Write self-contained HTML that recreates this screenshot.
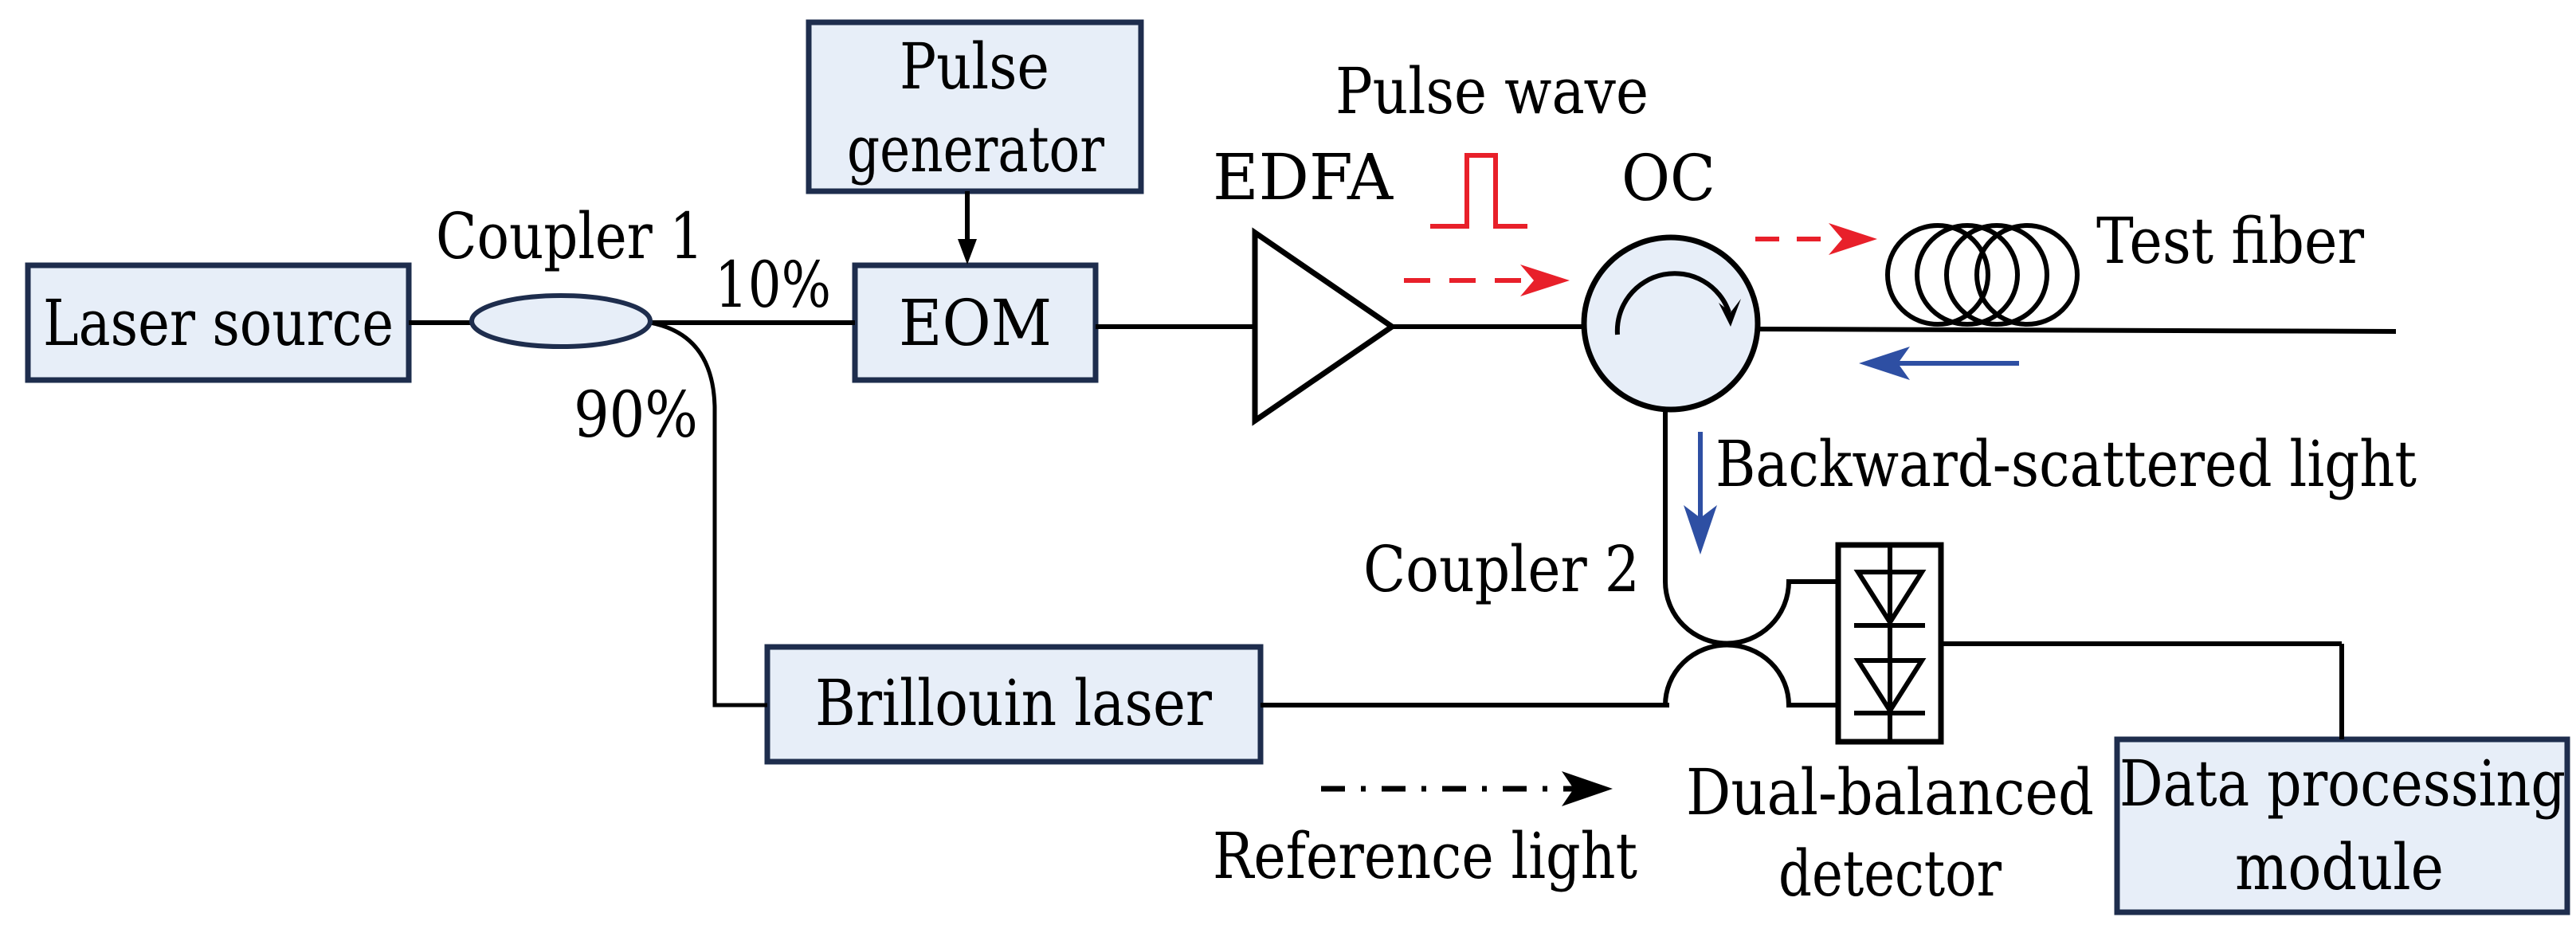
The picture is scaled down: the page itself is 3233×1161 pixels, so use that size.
<!DOCTYPE html>
<html><head><meta charset="utf-8"><style>html,body{margin:0;padding:0;background:#fff}svg{display:block}text{font-family:"DejaVu Serif","Liberation Serif","Times New Roman",Times,serif;font-size:80px}</style></head>
<body>
<svg width="3233" height="1161" viewBox="0 0 3233 1161" xmlns="http://www.w3.org/2000/svg" fill="#000">
<g stroke="#1e2d4d" stroke-width="7" fill="#e7eef8">
<rect x="35" y="333" width="478" height="144"/>
<rect x="1015" y="28" width="417" height="212"/>
<rect x="1073" y="333" width="302" height="144"/>
<rect x="963" y="812" width="619" height="144"/>
<rect x="2657" y="928" width="565" height="217"/>
</g>
<g stroke="#000" stroke-width="6" fill="none">
<line x1="513" y1="405" x2="593" y2="405"/>
<line x1="816" y1="405" x2="1073" y2="405"/>
<path d="M816 405 Q895 420 897 511 L897 885 L963 885" stroke-width="5"/>
<line x1="1375" y1="410" x2="1575" y2="410"/>
<line x1="1214" y1="240" x2="1214" y2="300"/>
<polygon points="1575,292 1747,410 1575,528" fill="#fff" stroke-width="7"/>
<line x1="1747" y1="410" x2="1988" y2="410"/>
<line x1="2205" y1="413" x2="3007" y2="416"/>
<line x1="2090" y1="515" x2="2090" y2="730"/>
<path d="M2090 730 A77 77 0 0 0 2245 730 L2306 730"/>
<line x1="1582" y1="885" x2="2095" y2="885"/>
<path d="M2090 885 A77 75 0 0 1 2245 885 L2306 885"/>
<rect x="2307" y="684" width="129" height="247" stroke-width="7"/>
<line x1="2372" y1="684" x2="2372" y2="931"/>
<line x1="2436" y1="808" x2="2939" y2="808"/>
<line x1="2939" y1="808" x2="2939" y2="928"/>
<line x1="2327" y1="785" x2="2416" y2="785"/>
<line x1="2327" y1="895" x2="2416" y2="895"/>
<polygon points="2332,718 2412,718 2372,781"/>
<polygon points="2332,829 2412,829 2372,892"/>
</g>
<polygon points="1202,300 1226,300 1214,332" fill="#000"/>
<ellipse cx="704" cy="403" rx="112" ry="32" fill="#e7eef8" stroke="#1e2d4d" stroke-width="6"/>
<ellipse cx="2097" cy="406" rx="109" ry="108" fill="#e7eef8" stroke="#000" stroke-width="7"/>
<path d="M2030 420 A72 72 0 0 1 2170 392" stroke="#000" stroke-width="6" fill="none"/>
<polygon points="2157,380 2172,410 2185,375 2172,392" fill="#000"/>
<g stroke="#000" stroke-width="6" fill="none">
<ellipse cx="2432" cy="345" rx="63" ry="62"/>
<ellipse cx="2469" cy="345" rx="63" ry="62"/>
<ellipse cx="2506" cy="345" rx="63" ry="62"/>
<ellipse cx="2544" cy="345" rx="63" ry="62"/>
</g>
<g stroke="#e8202a" stroke-width="6" fill="none">
<polyline points="1795,284 1841,284 1841,195 1877,195 1877,284 1917,284"/>
<line x1="1762" y1="352" x2="1915" y2="352" stroke-dasharray="33,24"/>
<line x1="2203" y1="300" x2="2300" y2="300" stroke-dasharray="30,22"/>
</g>
<polygon points="1908,332 1970,352 1908,372 1925,352" fill="#e8202a"/>
<polygon points="2295,280 2356,300 2295,320 2312,300" fill="#e8202a"/>
<g stroke="#2e4fa3" stroke-width="6">
<line x1="2534" y1="456" x2="2380" y2="456"/>
<line x1="2134" y1="542" x2="2134" y2="650"/>
</g>
<polygon points="2333,456 2397,435 2382,456 2397,477" fill="#2e4fa3"/>
<polygon points="2134,696 2113,634 2134,650 2155,634" fill="#2e4fa3"/>
<line x1="1658" y1="990" x2="1985" y2="990" stroke="#000" stroke-width="7" stroke-dasharray="30,20,6,20"/>
<polygon points="1960,968 2024,990 1960,1012 1975,990" fill="#000"/>
<text x="54" y="433" textLength="440" lengthAdjust="spacingAndGlyphs">Laser source</text>
<text x="1129" y="111" textLength="188" lengthAdjust="spacingAndGlyphs">Pulse</text>
<text x="1063" y="215" textLength="323" lengthAdjust="spacingAndGlyphs">generator</text>
<text x="1128" y="433" textLength="192" lengthAdjust="spacingAndGlyphs">EOM</text>
<text x="547" y="324" textLength="336" lengthAdjust="spacingAndGlyphs">Coupler 1</text>
<text x="897" y="385" textLength="146" lengthAdjust="spacingAndGlyphs">10%</text>
<text x="720" y="548" textLength="156" lengthAdjust="spacingAndGlyphs">90%</text>
<text x="1023" y="910" textLength="498" lengthAdjust="spacingAndGlyphs">Brillouin laser</text>
<text x="1522" y="250" textLength="226" lengthAdjust="spacingAndGlyphs">EDFA</text>
<text x="1676" y="142" textLength="393" lengthAdjust="spacingAndGlyphs">Pulse wave</text>
<text x="2035" y="251" textLength="118" lengthAdjust="spacingAndGlyphs">OC</text>
<text x="2631" y="330" textLength="336" lengthAdjust="spacingAndGlyphs">Test fiber</text>
<text x="2153" y="610" textLength="880" lengthAdjust="spacingAndGlyphs">Backward-scattered light</text>
<text x="1711" y="742" textLength="347" lengthAdjust="spacingAndGlyphs">Coupler 2</text>
<text x="2116" y="1022" textLength="512" lengthAdjust="spacingAndGlyphs">Dual-balanced</text>
<text x="2232" y="1124" textLength="280" lengthAdjust="spacingAndGlyphs">detector</text>
<text x="2660" y="1011" textLength="560" lengthAdjust="spacingAndGlyphs">Data processing</text>
<text x="2805" y="1116" textLength="262" lengthAdjust="spacingAndGlyphs">module</text>
<text x="1522" y="1102" textLength="533" lengthAdjust="spacingAndGlyphs">Reference light</text>
</svg>
</body></html>
